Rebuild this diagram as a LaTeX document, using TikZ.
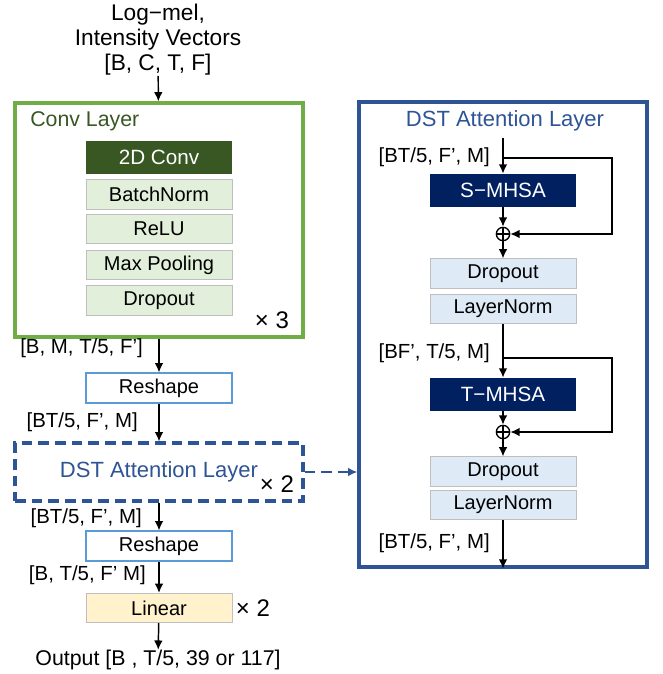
\documentclass[tikz,border=0pt]{standalone}
\usepackage{fontspec}
\setmainfont{Liberation Sans}
\usepackage{tikz}
\usetikzlibrary{arrows.meta,shapes,positioning,calc}
\usepackage{xcolor}
\definecolor{convgreen}{RGB}{112,173,71}
\definecolor{darkgreen}{RGB}{56,87,35}
\definecolor{palegreen}{RGB}{226,239,218}
\definecolor{dstblue}{RGB}{46,84,150}
\definecolor{navy}{RGB}{0,32,96}
\definecolor{paleblue}{RGB}{222,235,247}
\definecolor{reshblue}{RGB}{91,155,213}
\definecolor{paleyellow}{RGB}{255,242,204}
\definecolor{boxgray}{RGB}{191,191,191}

\begin{document}
\begin{tikzpicture}[x=0.75pt, y=-0.75pt,
        txt/.style={font=\fontsize{15.5}{18.75}\selectfont, align=center, inner sep=0pt},
        dim/.style={font=\fontsize{15.3}{18}\selectfont, inner sep=0pt, anchor=east},
        layer/.style={rectangle, draw=boxgray, line width=0.6pt, minimum width=109.5pt,
                    minimum height=22pt, inner sep=0pt, font=\fontsize{15}{17}\selectfont},
        dark/.style={layer, draw=none, text=white, minimum height=24.75pt, font=\fontsize{15.5}{17}\selectfont},
        frame/.style={rectangle, line width=2.4pt, minimum width=216pt, inner sep=0pt},
        arr/.style={-{Latex[length=7pt,width=6.5pt]}, line width=1.1pt, black},
        plus/.style={circle, draw, line width=1pt, minimum size=10pt, inner sep=0pt,
                    path picture={\draw[line width=1pt] (path picture bounding box.north) -- (path picture bounding box.south)
                        (path picture bounding box.west) -- (path picture bounding box.east);}}
      ]
        \useasboundingbox (0,0) rectangle (662,674);

        % left column
        \node[txt, font=\fontsize{17}{18.75}\selectfont] (input) at (158,40) {Log−mel,\\Intensity Vectors\\{[B, C, T, F]}};
        \node[frame, draw=convgreen, minimum height=175.5pt] (conv) at (159,220) {};
        \node[txt, anchor=west, text=darkgreen, font=\fontsize{16}{18}\selectfont] (convtitle) at (30,121) {Conv Layer};
        \node[dark, fill=darkgreen] (conv2d) at (159,157.5) {2D Conv};
        \node[layer, fill=palegreen] (bn) at (159,194.5) {BatchNorm};
        \node[layer, fill=palegreen] (relu) at (159,229) {ReLU};
        \node[layer, fill=palegreen] (pool) at (159,265) {Max Pooling};
        \node[layer, fill=palegreen] (drop) at (159,300.5) {Dropout};
        \node[txt, font=\fontsize{18}{20}\selectfont] (times3) at (272,320) {× 3};

        \node[layer, draw=reshblue, line width=1.4pt, fill=white] (reshA) at (159,388) {Reshape};
        \node[frame, draw=dstblue, dash pattern=on 8pt off 4.5pt, minimum height=43.5pt,
              text=dstblue, font=\fontsize{16.5}{18}\selectfont] (dstA) at (159,472) {DST Attention Layer};
        \node[txt, font=\fontsize{18}{20}\selectfont] (times2a) at (277,484) {× 2};
        \node[layer, draw=reshblue, line width=1.4pt, fill=white] (reshB) at (159,546) {Reshape};
        \node[layer, fill=paleyellow] (linear) at (159,608) {Linear};
        \node[txt, font=\fontsize{18}{20}\selectfont] (times2b) at (253,608) {× 2};
        \node[txt, font=\fontsize{16}{18}\selectfont] (output) at (158,660) {Output [B , T/5, 39 or 117]};

        \node[dim] (dimA) at (143,348) {[B, M, T/5, F']};
        \node[dim] (dimB) at (138,422) {[BT/5, F', M]};
        \node[dim] (dimC) at (142,518) {[BT/5, F', M]};
        \node[dim] (dimD) at (146,575) {[B, T/5, F' M]};

        \draw[arr] (input) -- (conv);
        \draw[arr] (conv) -- (reshA);
        \draw[arr] (reshA) -- (dstA);
        \draw[arr] (dstA) -- (reshB);
        \draw[arr] (reshB) -- (linear);
        \draw[arr] (linear) -- (output);

        % right column
        \node[frame, draw=dstblue, minimum height=348.75pt] (dstB) at (503,334.5) {};
        \node[txt, text=dstblue, font=\fontsize{16.5}{18}\selectfont] (dsttitle) at (505,121) {DST Attention Layer};
        \coordinate (entry) at (503,138);
        \coordinate (skipA) at (503,158);
        \node[dark, fill=navy] (smhsa) at (503,190.5) {S−MHSA};
        \node[plus] (plusA) at (503,234) {};
        \node[layer, fill=paleblue] (dropA) at (503,273.5) {Dropout};
        \node[layer, fill=paleblue] (lnA) at (503,309) {LayerNorm};
        \coordinate (skipB) at (503,358);
        \node[dark, fill=navy] (tmhsa) at (503,394.5) {T−MHSA};
        \node[plus] (plusB) at (503,432) {};
        \node[layer, fill=paleblue] (dropB) at (503,471.5) {Dropout};
        \node[layer, fill=paleblue] (lnB) at (503,505) {LayerNorm};

        \node[dim] (dimE) at (490,157) {[BT/5, F', M]};
        \node[dim] (dimF) at (490,353) {[BF', T/5, M]};
        \node[dim] (dimG) at (490,543) {[BT/5, F', M]};

        \draw[arr] (entry) -- (smhsa);
        \draw[arr] (skipA) -- ++(109,0) |- (plusA);
        \draw[arr] (smhsa) -- (plusA);
        \draw[arr] (plusA) -- (dropA);
        \draw[arr] (lnA) -- (tmhsa);
        \draw[arr] (skipB) -- ++(109,0) |- (plusB);
        \draw[arr] (tmhsa) -- (plusB);
        \draw[arr] (plusB) -- (dropB);
        \draw[arr] (lnB) -- (dstB.south);

        \draw[arr, dstblue, line width=1.9pt, dash pattern=on 8pt off 4.5pt] (dstA.east) -- (dstB.west |- dstA.east);
      \end{tikzpicture}
\end{document}
